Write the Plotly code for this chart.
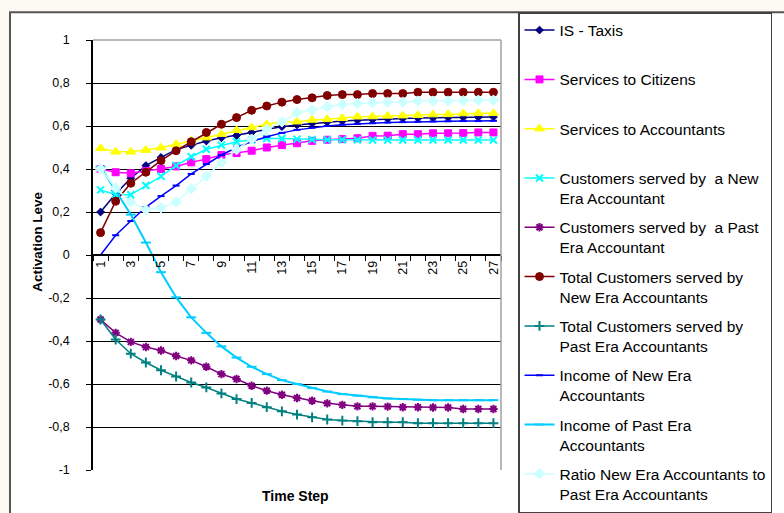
import plotly.graph_objects as go

# Time steps (categories on the horizontal axis)
time_step = [1, 2, 3, 4, 5, 6, 7, 8, 9, 10, 11, 12, 13, 14,
             15, 16, 17, 18, 19, 20, 21, 22, 23, 24, 25, 26, 27]
x_tick_vals = [1, 3, 5, 7, 9, 11, 13, 15, 17, 19, 21, 23, 25, 27]
x_tick_text = ["1", "3", "5", "7", "9", "11", "13", "15", "17", "19", "21", "23", "25", "27"]
x_boundaries = [0.5, 1.5, 2.5, 3.5, 4.5, 5.5, 6.5, 7.5, 8.5, 9.5, 10.5, 11.5, 12.5, 13.5,
                14.5, 15.5, 16.5, 17.5, 18.5, 19.5, 20.5, 21.5, 22.5, 23.5, 24.5, 25.5, 26.5, 27.5]
y_tick_vals = [1, 0.8, 0.6, 0.4, 0.2, 0, -0.2, -0.4, -0.6, -0.8, -1]
y_tick_text = ["1", "0,8", "0,6", "0,4", "0,2", "0", "-0,2", "-0,4", "-0,6", "-0,8", "-1"]

# Activation level of each concept per time step
is_taxis = [0.20, 0.285, 0.357, 0.416, 0.454, 0.49, 0.51, 0.53, 0.545, 0.556, 0.57, 0.585, 0.597,
            0.605, 0.612, 0.618, 0.623, 0.627, 0.63, 0.633, 0.635, 0.637, 0.638, 0.639, 0.64, 0.641, 0.642]
services_citizens = [0.40, 0.385, 0.38, 0.391, 0.40, 0.412, 0.431, 0.446, 0.465, 0.474, 0.485, 0.50, 0.511,
                     0.52, 0.531, 0.536, 0.539, 0.543, 0.554, 0.555, 0.562, 0.562, 0.566, 0.566, 0.567, 0.57, 0.57]
services_accountants = [0.496, 0.48, 0.48, 0.488, 0.499, 0.515, 0.531, 0.546, 0.562, 0.58, 0.593, 0.608, 0.619,
                        0.62, 0.628, 0.631, 0.636, 0.643, 0.644, 0.647, 0.648, 0.65, 0.653, 0.654, 0.658, 0.659, 0.659]
cust_new_era = [0.303, 0.28, 0.28, 0.323, 0.366, 0.416, 0.457, 0.492, 0.511, 0.527, 0.536, 0.542, 0.542,
                0.539, 0.537, 0.536, 0.536, 0.535, 0.535, 0.535, 0.535, 0.535, 0.535, 0.535, 0.535, 0.535, 0.535]
cust_past_era = [-0.30, -0.362, -0.404, -0.428, -0.444, -0.47, -0.49, -0.52, -0.554, -0.577, -0.608, -0.631, -0.65,
                 -0.665, -0.678, -0.69, -0.697, -0.704, -0.704, -0.705, -0.708, -0.708, -0.709, -0.709, -0.716, -0.716, -0.716]
total_new_era = [0.104, 0.25, 0.334, 0.385, 0.439, 0.485, 0.527, 0.57, 0.608, 0.639, 0.673, 0.693, 0.711,
                 0.723, 0.731, 0.742, 0.746, 0.746, 0.751, 0.751, 0.751, 0.757, 0.757, 0.757, 0.757, 0.757, 0.757]
total_past_era = [-0.30, -0.393, -0.459, -0.50, -0.536, -0.565, -0.593, -0.616, -0.644, -0.67, -0.688, -0.708, -0.727,
                  -0.742, -0.755, -0.765, -0.77, -0.773, -0.778, -0.778, -0.778, -0.782, -0.782, -0.782, -0.782, -0.782, -0.782]
income_new_era = [0.0, 0.092, 0.158, 0.223, 0.274, 0.323, 0.377, 0.423, 0.465, 0.50, 0.528, 0.55, 0.568,
                  0.582, 0.592, 0.60, 0.606, 0.61, 0.613, 0.616, 0.618, 0.62, 0.621, 0.622, 0.623, 0.623, 0.624]
income_past_era = [0.41, 0.30, 0.188, 0.058, -0.08, -0.197, -0.29, -0.362, -0.425, -0.477, -0.52, -0.554, -0.582,
                   -0.60, -0.619, -0.635, -0.647, -0.654, -0.662, -0.667, -0.67, -0.673, -0.675, -0.675, -0.675, -0.675, -0.675]
ratio_new_past = [0.40, 0.312, 0.246, 0.211, 0.22, 0.246, 0.308, 0.366, 0.431, 0.49, 0.539, 0.585, 0.619,
                  0.662, 0.674, 0.69, 0.70, 0.705, 0.708, 0.711, 0.711, 0.716, 0.716, 0.716, 0.718, 0.72, 0.72]

series = [
    ("IS - Taxis<br> ", is_taxis, "#000080", "diamond", 6, 1.5),
    ("Services to Citizens<br> ", services_citizens, "#FF00FF", "square", 7, 1.5),
    ("Services to Accountants<br> ", services_accountants, "#FFFF00", "triangle-up", 9, 1.5),
    ("Customers served by  a New<br>Era Accountant", cust_new_era, "#00FFFF", "x-thin-open", 7, 1.5),
    ("Customers served by  a Past<br>Era Accountant", cust_past_era, "#800080", "asterisk-open", 7, 1.5),
    ("Total Customers served by<br>New Era Accountants", total_new_era, "#800000", "circle", 8, 1.5),
    ("Total Customers served by<br>Past Era Accountants", total_past_era, "#008080", "cross-thin-open", 7, 1.5),
    ("Income of New Era<br>Accountants", income_new_era, "#0000FF", "line-ew-open", 5, 1.5),
    ("Income of Past Era<br>Accountants", income_past_era, "#00CCFF", "line-ew-open", 7, 2),
    ("Ratio New Era Accountants to<br>Past Era Accountants", ratio_new_past, "#CCFFFF", "diamond", 8, 1.5),
]

fig = go.Figure()
for i, (name, vals, color, symbol, msize, lw) in enumerate(series):
    open_sym = symbol.endswith("open")
    fig.add_trace(go.Scatter(
        x=time_step, y=vals, name=name, mode="lines+markers",
        legendgroup=f"g{i}",
        line=dict(color=color, width=lw),
        marker=dict(symbol=symbol, size=msize, color=color,
                    line=dict(color=color, width=2 if open_sym else 1)),
    ))

font_family = "Liberation Sans, Arial, sans-serif"

fig.update_layout(
    width=784, height=513, autosize=False,
    margin=dict(l=93, r=283, t=37, b=43),
    paper_bgcolor="#FCF9F2",
    plot_bgcolor="white",
    font=dict(family=font_family, color="black", size=13),
    showlegend=True,
    legend=dict(
        x=1.0417, y=1.0647, xanchor="left", yanchor="top",
        bgcolor="white", bordercolor="#404040", borderwidth=1.5,
        font=dict(family=font_family, size=15.5, color="black"),
        valign="top", tracegroupgap=6, maxheight=600,
    ),
    xaxis=dict(
        range=[0.5, 27.5], anchor="free", position=0.5,
        tickmode="array", tickvals=x_tick_vals, ticktext=x_tick_text,
        tickangle=-90, ticks="", showgrid=False, zeroline=False,
        showline=True, linecolor="black", linewidth=1.5,
        tickfont=dict(size=12.5),
        minor=dict(tickmode="array", tickvals=x_boundaries, ticks="outside",
                   ticklen=5, tickcolor="black", showgrid=False),
    ),
    yaxis=dict(
        range=[-1, 1],
        tickmode="array", tickvals=y_tick_vals, ticktext=y_tick_text,
        ticks="outside", ticklen=5, tickcolor="black",
        showline=True, linecolor="black", linewidth=1.5,
        showgrid=True, gridcolor="black", gridwidth=1, zeroline=False,
        tickfont=dict(size=12.5), ticklabelstandoff=14,
    ),
    shapes=[
        # white chart frame
        dict(type="rect", xref="paper", yref="paper", x0=-0.2034, x1=1.9, y0=-0.3, y1=1.0647,
             fillcolor="white", line=dict(color="#555555", width=2), layer="below"),
        # plot-area border on top and right
        dict(type="line", xref="paper", yref="paper", x0=0, x1=1, y0=1, y1=1,
             line=dict(color="#A0A0A0", width=1.5), layer="above"),
        dict(type="line", xref="paper", yref="paper", x0=1, x1=1, y0=0, y1=1,
             line=dict(color="#A0A0A0", width=1.5), layer="above"),
    ],
    annotations=[
        dict(text="<b>Activation Leve</b>", xref="paper", yref="paper",
             x=-0.1348, y=0.531, xanchor="center", yanchor="middle",
             textangle=-90, showarrow=False,
             font=dict(size=13.5, family=font_family)),
        dict(text="<b>Time Step</b>", xref="paper", yref="paper",
             x=0.4975, y=-0.0600, xanchor="center", yanchor="middle",
             showarrow=False,
             font=dict(size=14, family=font_family)),
    ],
)

fig.write_html("out.html")
